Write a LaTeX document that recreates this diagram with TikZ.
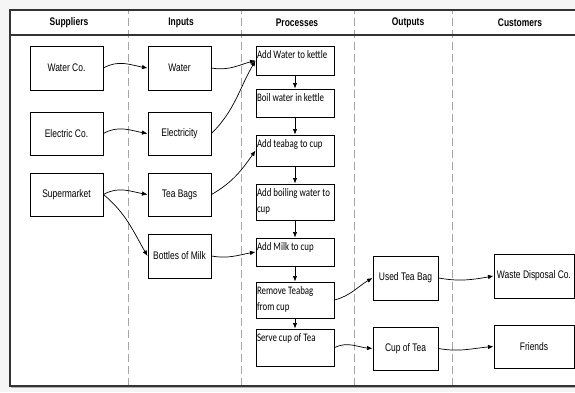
\documentclass[tikz,border=0pt]{standalone}
\usepackage{fontspec}
\setmainfont{Liberation Sans}[FakeStretch=0.77]
\newfontfamily\procfont{Carlito}[FakeStretch=0.77]
\usetikzlibrary{arrows.meta}
\newcommand{\ptext}[2]{\parbox[c][#1][t]{76pt}{\raggedright\strut #2}}
\begin{document}
\begin{tikzpicture}[x=1pt,y=1pt,
  box/.style={draw=black,line width=1pt,fill=white,inner sep=1pt,align=center,
    font=\fontsize{11}{13}\selectfont},
  proc/.style={draw=black,line width=1pt,fill=white,inner xsep=1pt,inner ysep=2pt,
    font=\procfont\fontsize{11.5}{15.5}\selectfont},
  head/.style={font=\fontsize{11}{13}\selectfont\bfseries},
  conn/.style={-{Latex[length=5.5pt,width=4.5pt]},line width=0.7pt,black},
  divider/.style={gray!70,line width=0.8pt,dash pattern=on 8pt off 4pt}]
\useasboundingbox (0,0) rectangle (575,392);
\fill[gray!8] (0,0) rectangle (575,392);
\fill[white] (10,6) rectangle (580,382);
% dividers
\foreach \xx in {128,241,354,452} \draw[divider] (\xx,6) -- (\xx,382);
% frame
\draw[gray!60,line width=1pt] (11,4.5) -- (580,4.5);
\draw[black!80,line width=1.1pt] (580,382) -- (10,382) -- (10,6) -- (580,6);
\draw[black!80,line width=1.1pt] (10,357) -- (580,357);
% headers
\node[head] (h1) at (69,369) {Suppliers};
\node[head] (h2) at (181,369) {Inputs};
\node[head] (h3) at (297,369) {Processes};
\node[head] (h4) at (408,369) {Outputs};
\node[head] (h5) at (520,369) {Customers};
% suppliers
\node[box,minimum width=73pt,minimum height=44pt] (wc) at (66.5,324) {Water Co.};
\node[box,minimum width=73pt,minimum height=43pt] (ec) at (66.5,258.5) {Electric Co.};
\node[box,minimum width=73pt,minimum height=43pt] (sm) at (66.5,197.5) {Supermarket};
% inputs
\node[box,minimum width=63pt,minimum height=44pt] (w) at (179.5,324) {Water};
\node[box,minimum width=63pt,minimum height=43pt] (el) at (179.5,258.5) {Electricity};
\node[box,minimum width=63pt,minimum height=43pt] (tb) at (179.5,197.5) {Tea Bags};
\node[box,minimum width=63pt,minimum height=44pt] (mk) at (179.5,136) {Bottles of Milk};
% processes
\node[proc] (p1) at (295,331.5) {\ptext{25pt}{Add Water to kettle}};
\node[proc] (p2) at (295,289) {\ptext{24pt}{Boil water in kettle}};
\node[proc] (p3) at (295,241.5) {\ptext{27pt}{Add teabag to cup}};
\node[proc] (p4) at (295,190) {\ptext{32pt}{Add boiling water to\\cup}};
\node[proc] (p5) at (295,140) {\ptext{24pt}{Add Milk to cup}};
\node[proc] (p6) at (295,92) {\ptext{32pt}{Remove Teabag\\from cup}};
\node[proc] (p7) at (295,44.5) {\ptext{33pt}{Serve cup of Tea}};
% outputs
\node[box,minimum width=65pt,minimum height=44pt] (ut) at (405.5,114) {Used Tea Bag};
\node[box,minimum width=65pt,minimum height=43pt] (ct) at (405.5,43.5) {Cup of Tea};
% customers
\node[box,minimum width=80pt,minimum height=44pt] (wd) at (534,116) {Waste Disposal Co.};
\node[box,minimum width=80pt,minimum height=43pt] (fr) at (534,45.5) {Friends};
% process chain
\draw[conn] (p1.south) -- (p2.north);
\draw[conn] (p2.south) -- (p3.north);
\draw[conn] (p3.south) -- (p4.north);
\draw[conn] (p4.south) -- (p5.north);
\draw[conn] (p5.south) -- (p6.north);
\draw[conn] (p6.south) -- (p7.north);
% connectors
\draw[conn] (wc.east) to[out=30,in=170] (w.west);
\draw[conn] (ec.east) to[out=30,in=170] (el.west);
\draw[conn] (sm.east) to[out=30,in=170] (tb.west);
\draw[conn] (sm.east) to[out=-40,in=120] (mk.west);
\draw[conn] (w.east) to[out=-10,in=195] (p1.west);
\draw[conn] (el.east) to[out=45,in=240] (p1.west);
\draw[conn] (tb.east) to[out=30,in=235] (p3.west);
\draw[conn] (mk.east) to[out=-10,in=190] (p5.west);
\draw[conn] (p6.east) to[out=15,in=210] (ut.west);
\draw[conn] (p7.east) to[out=25,in=175] (ct.west);
\draw[conn] (ut.east) to[out=-10,in=190] (wd.west);
\draw[conn] (ct.east) to[out=-10,in=185] (fr.west);
\end{tikzpicture}
\end{document}
